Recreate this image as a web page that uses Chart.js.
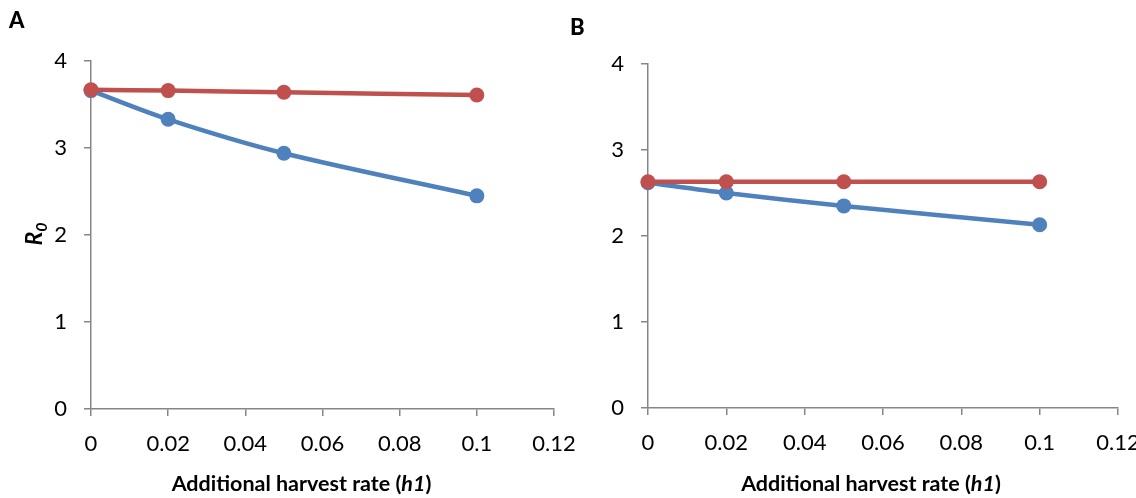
<!DOCTYPE html>
<html>
<head>
<meta charset="utf-8">
<script src="https://cdn.jsdelivr.net/npm/chart.js@4"></script>
<style>
  body { margin: 0; background: #fff; }
  #wrap { position: relative; width: 1136px; height: 498px; overflow: hidden; }
  canvas { position: absolute; top: 0; }
  #chartA { left: 0; }
  #chartB { left: 560px; }
</style>
</head>
<body>
<div id="wrap">
  <canvas id="chartA" width="580" height="498"></canvas>
  <canvas id="chartB" width="576" height="498"></canvas>
</div>
<script>
// harvest rates (x) and R0 values
const harvestRates = [0, 0.02, 0.05, 0.1];
const panelABlue = [3.66, 3.33, 2.94, 2.45];
const panelARed = [3.67, 3.66, 3.64, 3.61];
const panelBBlue = [2.62, 2.50, 2.35, 2.13];
const panelBRed = [2.63, 2.63, 2.63, 2.63];
const xTicks = [0, 0.02, 0.04, 0.06, 0.08, 0.1, 0.12];
const yTicks = [0, 1, 2, 3, 4];
const xTitle = [['Additional harvest rate (', false], ['h1', true], [')', false]];

const BLUE = '#4F81BD', RED = '#C0504D', AXIS = '#868686';
const FONT = 'Lato, "Open Sans", sans-serif';

const pts = (ys) => harvestRates.map((x, i) => ({ x, y: ys[i] }));

const series = (data, color, order) => ({
  data: pts(data), borderColor: color, backgroundColor: color,
  borderWidth: 4.5, pointRadius: 7.5, pointHoverRadius: 7.5, pointBorderWidth: 0,
  tension: 0.3, clip: false, order,
});

// draws panel letter and axis titles with mixed font styles
const titles = {
  id: 'titles',
  afterDraw(chart, args, opt) {
    const ctx = chart.ctx, a = chart.chartArea;
    ctx.save();
    ctx.fillStyle = '#000';
    ctx.textBaseline = 'alphabetic';
    ctx.font = '900 22px ' + FONT;
    ctx.fillText(opt.letter, opt.lx, opt.ly);
    // x title
    const font = (it) => (it ? 'italic ' : '') + 'bold 21.5px ' + FONT;
    let w = 0;
    xTitle.forEach(([t, it]) => { ctx.font = font(it); w += ctx.measureText(t).width; });
    let x = (a.left + a.right) / 2 - w / 2 + (opt.tx || 0);
    xTitle.forEach(([t, it]) => { ctx.font = font(it); ctx.fillText(t, x, 491); x += ctx.measureText(t).width; });
    // y title
    if (opt.yTitle) {
      ctx.translate(42, 234);
      ctx.rotate(-Math.PI / 2);
      ctx.font = 'italic bold 23px ' + FONT;
      const rw = ctx.measureText('R').width;
      ctx.font = 'italic bold 16px ' + FONT;
      const sw = ctx.measureText('0').width;
      const sx = -(rw + sw) / 2;
      ctx.font = 'italic bold 23px ' + FONT;
      ctx.fillText('R', sx, 0);
      ctx.font = 'italic bold 16px ' + FONT;
      ctx.fillText('0', sx + rw, 5);
    }
    ctx.restore();
  },
};

function makeChart(id, blue, red, pad, opt) {
  return new Chart(document.getElementById(id), {
    type: 'line',
    data: { datasets: [series(red, RED, 0), series(blue, BLUE, 1)] },
    options: {
      responsive: false, animation: false,
      layout: { padding: pad },
      plugins: { legend: { display: false }, tooltip: { enabled: false }, titles: opt },
      scales: {
        x: {
          type: 'linear', min: 0, max: 0.12,
          afterBuildTicks: (s) => { s.ticks = xTicks.map((v) => ({ value: v })); },
          afterFit: (s) => { s.height = 60; s.paddingLeft = 0; s.paddingRight = 0; },
          grid: { drawOnChartArea: false, color: AXIS, tickLength: 7, lineWidth: 1.5 },
          border: { color: AXIS, width: 1.5 },
          ticks: { color: '#000', font: { family: FONT, size: 22 }, padding: 15, maxRotation: 0, autoSkip: false,
            callback: (v) => String(Number(v.toFixed(2))) },
        },
        y: {
          min: 0, max: 4,
          afterBuildTicks: (s) => { s.ticks = yTicks.map((v) => ({ value: v })); },
          afterFit: (s) => { s.width = 45; s.paddingTop = 0; s.paddingBottom = 0; },
          grid: { drawOnChartArea: false, color: AXIS, tickLength: 7, lineWidth: 1.5 },
          border: { color: AXIS, width: 1.5 },
          ticks: { color: '#000', font: { family: FONT, size: 22 }, padding: 17 },
        },
      },
    },
    plugins: [titles],
  });
}

makeChart('chartA', panelABlue, panelARed,
  { left: 46, right: 26, top: 61, bottom: 29 },
  { letter: 'A', lx: 9, ly: 28, yTitle: true, tx: -21 });
makeChart('chartB', panelBBlue, panelBRed,
  { left: 43, right: 18, top: 64, bottom: 30 },
  { letter: 'B', lx: 10, ly: 35, yTitle: false, tx: -12 });
</script>
</body>
</html>
